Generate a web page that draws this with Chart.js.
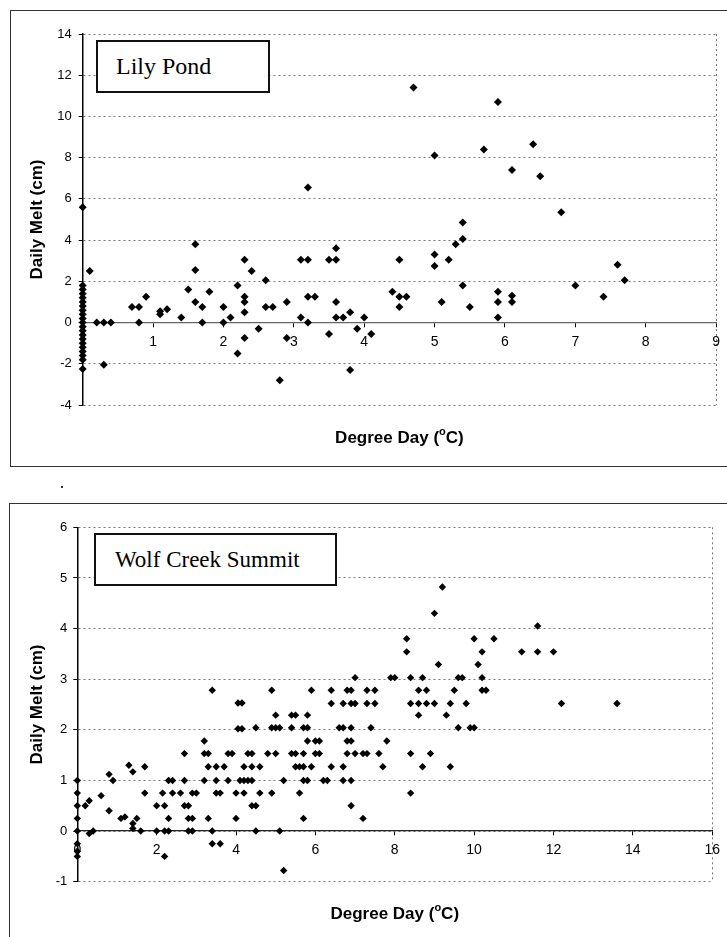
<!DOCTYPE html>
<html>
<head>
<meta charset="utf-8">
<script src="https://cdn.jsdelivr.net/npm/chart.js@4.4.1/dist/chart.umd.min.js"></script>
<style>
  body { margin: 0; background: #fff; width: 727px; height: 937px; overflow: hidden; position: relative; }
  .frame { position: absolute; border: 1.5px solid #333; }
  #frame1 { left: 10px; top: 10px; width: 760px; height: 455px; }
  #frame2 { left: 9px; top: 503px; width: 760px; height: 480px; }
  canvas { position: absolute; left: 0; }
  #lilyChart { top: 0; }
  #wolfChart { top: 470px; }
  .label { position: absolute; box-sizing: border-box; border: 2px solid #111; background: #fff; color: #000;
           font-family: "Liberation Serif", "Times New Roman", serif; display: flex; align-items: center; }
  #lilyLabel { left: 96px; top: 40px; width: 174px; height: 53px; font-size: 24px; padding-left: 18px; }
  #wolfLabel { left: 94px; top: 533px; width: 243px; height: 53px; font-size: 23px; padding-left: 19px; }
  .speck { position: absolute; left: 61px; top: 486px; width: 2px; height: 2px; background: #333; }
</style>
</head>
<body>
<div class="frame" id="frame1"></div>
<div class="frame" id="frame2"></div>
<div class="speck"></div>
<canvas id="lilyChart" width="727" height="470"></canvas>
<canvas id="wolfChart" width="727" height="467"></canvas>
<div class="label" id="lilyLabel">Lily Pond</div>
<div class="label" id="wolfLabel">Wolf Creek Summit</div>
<script>
// Lily Pond: degree day (°C) vs daily melt (cm)
const lilyDegreeDay = [
  0, 0, 0, 0, 0, 0, 0, 0, 0, 0, 0, 0, 0, 0, 0, 0, 0, 0, 0, 0, 0,
  0.1, 0.2, 0.3, 0.4, 0.3, 0.7, 0.8, 0.8, 0.9, 1.1, 1.1, 1.2, 1.4, 1.5,
  1.6, 1.6, 1.6, 1.7, 1.7, 1.8, 2.0, 2.0, 2.1, 2.2, 2.2, 2.3, 2.3, 2.3, 2.3, 2.3,
  2.4, 2.5, 2.6, 2.6, 2.7, 2.8, 2.9, 2.9, 3.1, 3.2, 3.1, 3.2, 3.3, 3.2, 3.2,
  3.5, 3.5, 3.6, 3.6, 3.6, 3.6, 3.7, 3.8, 3.8, 3.9, 4.0, 4.1,
  4.4, 4.5, 4.5, 4.6, 4.5, 4.7, 5.0, 5.0, 5.0, 5.1, 5.2, 5.3, 5.4, 5.4, 5.4, 5.5,
  5.7, 5.9, 5.9, 5.9, 5.9, 6.1, 6.1, 6.1, 6.4, 6.5, 6.8, 7.0, 7.4, 7.6, 7.7
];
const lilyMelt = [
  5.6, 1.8, 1.6, 1.4, 1.2, 1.0, 0.8, 0.6, 0.4, 0.2, 0, -0.2, -0.4, -0.6, -0.8, -1.0, -1.2, -1.4, -1.6, -1.8, -2.25,
  2.5, 0, 0, 0, -2.05, 0.75, 0.75, 0, 1.25, 0.55, 0.4, 0.65, 0.25, 1.6,
  3.8, 2.55, 1.0, 0.75, 0, 1.5, 0.75, 0, 0.25, -1.5, 1.8, 3.05, 1.25, 1.0, 0.5, -0.75,
  2.5, -0.3, 2.05, 0.75, 0.75, -2.8, 1.0, -0.75, 3.05, 3.05, 0.25, 1.25, 1.25, 0, 6.55,
  -0.55, 3.05, 3.05, 3.6, 1.0, 0.25, 0.25, 0.5, -2.3, -0.3, 0.25, -0.55,
  1.5, 3.05, 1.25, 1.25, 0.75, 11.4, 8.1, 3.3, 2.75, 1.0, 3.05, 3.8, 4.85, 4.05, 1.8, 0.75,
  8.4, 10.7, 1.5, 1.0, 0.25, 7.4, 1.3, 1.0, 8.65, 7.1, 5.35, 1.8, 1.25, 2.8, 2.05
];

// Wolf Creek Summit
const wolfDegreeDay = [
  0, 0, 0, 0, 0, 0, 0, 0,
  0.2, 0.3, 0.3, 0.4, 0.6, 0.8, 0.8, 0.9, 1.1, 1.2, 1.3, 1.4, 1.4, 1.4, 1.5, 1.6, 1.7, 1.7,
  2.0, 2.0, 2.15, 2.2, 2.2, 2.2, 2.3, 2.3, 2.3, 2.4, 2.4, 2.6, 2.7, 2.7, 2.7, 2.8, 2.8, 2.8, 2.9, 2.9, 2.9, 3.0,
  3.2, 3.2, 3.2, 3.3, 3.3, 3.3, 3.4, 3.4, 3.4, 3.5, 3.5, 3.5, 3.6, 3.6, 3.7, 3.8, 3.8, 3.9,
  4.0, 4.0, 4.05, 4.15, 4.05, 4.15, 4.1, 4.2, 4.2, 4.2, 4.3, 4.4,
  4.9, 5.9, 6.4, 6.8, 6.9, 7.3, 7.5, 8.6, 8.8, 9.5, 10.2, 10.3,
  7.0, 7.9, 8.0, 8.4, 8.7, 9.6, 9.7, 10.2,
  6.4, 6.7, 6.9, 7.0, 7.3, 7.5, 8.4, 8.6, 8.8, 9.0, 9.4, 9.8, 12.2, 13.6,
  5.0, 5.4, 5.5, 5.8, 8.6, 9.3,
  4.5, 4.9, 5.0, 5.1, 5.4, 5.7, 5.8, 6.6, 6.7, 6.9, 7.4, 9.6, 9.9, 10.0,
  5.8, 6.0, 6.1, 6.8, 6.9, 7.8,
  4.3, 4.4, 4.8, 5.0, 5.4, 5.5, 5.7, 6.0, 6.1, 6.8, 7.0, 7.2, 7.3, 7.6, 8.4, 8.9,
  4.4, 4.6, 5.5, 5.6, 5.7, 5.9, 6.4, 6.7, 7.7, 8.7, 9.4,
  5.2, 5.7, 5.8, 6.2, 6.3, 6.7, 6.9,
  4.6, 4.9, 5.6, 8.4,
  4.4, 4.5, 6.9,
  5.7, 7.2,
  4.5, 5.1,
  5.2,
  9.1, 10.1,
  8.3, 10.2, 11.2, 11.6, 12.0,
  8.3, 10.0, 10.5,
  9.0, 9.2, 11.6
];
const wolfMelt = [
  1.0, 0.75, 0.5, 0.25, 0, -0.25, -0.4, -0.5,
  0.5, 0.6, -0.05, 0, 0.7, 1.12, 0.4, 1.0, 0.25, 0.28, 1.3, 1.17, 0.15, 0.05, 0.25, 0, 1.27, 0.75,
  0, 0.5, 0.75, 0.5, 0, -0.5, 1.0, 0.25, 0, 1.0, 0.75, 0.75, 1.53, 1.0, 0.5, 0.5, 0.25, 0, 0.25, 0, 0.75, 0.75,
  1.78, 1.53, 1.0, 1.53, 1.27, 0.25, 2.78, 0, -0.25, 1.27, 1.0, 0.75, 0.75, -0.25, 1.27, 1.0, 1.53, 1.53,
  0.75, 0.25, 2.02, 2.02, 2.53, 2.53, 1.0, 1.27, 1.0, 0.75, 1.0, 1.0,
  2.78, 2.78, 2.78, 2.78, 2.78, 2.78, 2.78, 2.78, 2.78, 2.78, 2.78, 2.78,
  3.03, 3.03, 3.03, 3.03, 3.03, 3.03, 3.03, 3.03,
  2.52, 2.52, 2.52, 2.52, 2.52, 2.52, 2.52, 2.52, 2.52, 2.52, 2.52, 2.52, 2.52, 2.52,
  2.29, 2.29, 2.29, 2.29, 2.29, 2.29,
  2.04, 2.04, 2.04, 2.04, 2.04, 2.04, 2.04, 2.04, 2.04, 2.04, 2.04, 2.04, 2.04, 2.04,
  1.78, 1.78, 1.78, 1.78, 1.78, 1.78,
  1.53, 1.53, 1.53, 1.53, 1.53, 1.53, 1.53, 1.53, 1.53, 1.53, 1.53, 1.53, 1.53, 1.53, 1.53, 1.53,
  1.27, 1.27, 1.27, 1.27, 1.27, 1.27, 1.27, 1.27, 1.27, 1.27, 1.27,
  1.0, 1.0, 1.0, 1.0, 1.0, 1.0, 1.0,
  0.75, 0.75, 0.75, 0.75,
  0.5, 0.5, 0.5,
  0.25, 0.25,
  0, 0,
  -0.78,
  3.29, 3.29,
  3.54, 3.54, 3.54, 3.54, 3.54,
  3.8, 3.8, 3.8,
  4.3, 4.82, 4.05
];

const lilyXTicks = [0, 1, 2, 3, 4, 5, 6, 7, 8, 9];
const lilyYTicks = [-4, -2, 0, 2, 4, 6, 8, 10, 12, 14];
const wolfXTicks = [0, 2, 4, 6, 8, 10, 12, 14, 16];
const wolfYTicks = [-1, 0, 1, 2, 3, 4, 5, 6];

const sans = '"Liberation Sans", Arial, sans-serif';

// axis titles, drawn by hand so the degree "o" can be a superscript
const axisTitles = {
  id: 'axisTitles',
  afterDraw(chart, args, opts) {
    const ctx = chart.ctx;
    const area = chart.chartArea;
    const big = 'bold 17px ' + sans;
    const small = 'bold 11px ' + sans;
    ctx.save();
    ctx.fillStyle = '#000';
    ctx.textBaseline = 'middle';
    ctx.textAlign = 'left';
    ctx.font = big;
    const wPre = ctx.measureText('Degree Day (').width;
    const wPost = ctx.measureText('C)').width;
    ctx.font = small;
    const wSup = ctx.measureText('o').width;
    let x = (area.left + area.right) / 2 - (wPre + wSup + wPost) / 2;
    const y = opts.xTitleY;
    ctx.font = big;
    ctx.fillText('Degree Day (', x, y);
    x += wPre;
    ctx.font = small;
    ctx.fillText('o', x, y - 6);
    x += wSup;
    ctx.font = big;
    ctx.fillText('C)', x, y);

    ctx.translate(opts.yTitleX, (area.top + area.bottom) / 2);
    ctx.rotate(-Math.PI / 2);
    ctx.textAlign = 'center';
    ctx.fillText('Daily Melt (cm)', 0, 0);
    ctx.restore();
  }
};

function makeChart(id, xs, ys, xTicks, yTicks, opt) {
  const points = xs.map((x, i) => ({x: x, y: ys[i]}));
  const xMax = xTicks[xTicks.length - 1];
  return new Chart(document.getElementById(id), {
    type: 'scatter',
    data: {
      datasets: [{
        data: points,
        clip: false,
        pointStyle: 'rectRot',
        pointRadius: opt.radius,
        backgroundColor: '#000',
        borderColor: '#000',
        borderWidth: 0
      }]
    },
    options: {
      responsive: false,
      animation: false,
      layout: { padding: { left: 0, top: opt.top, right: opt.right, bottom: opt.bottom } },
      plugins: {
        legend: { display: false },
        tooltip: { enabled: false },
        axisTitles: { xTitleY: opt.xTitleY, yTitleX: opt.yTitleX }
      },
      scales: {
        x: {
          type: 'linear',
          position: { y: 0 },
          min: xTicks[0],
          max: xMax,
          ticks: {
            stepSize: xTicks[1] - xTicks[0],
            color: '#000',
            font: { family: sans, size: 14 },
            padding: 7,
            maxRotation: 0,
            autoSkip: false,
            callback: v => (opt.hideZero && v === 0) ? '' : v
          },
          grid: {
            color: c => (c.tick && c.tick.value === xMax) ? '#777' : 'rgba(0,0,0,0)',
            tickLength: 4,
            tickColor: '#000',
            tickBorderDash: []
          },
          border: { color: opt.axisColor, width: 1.3, dash: [2, 3] },
          afterFit: s => { s.height = 0; }
        },
        y: {
          min: yTicks[0],
          max: yTicks[yTicks.length - 1],
          ticks: {
            stepSize: yTicks[1] - yTicks[0],
            color: '#000',
            font: { family: sans, size: 13 },
            padding: opt.yPad
          },
          grid: {
            color: '#777',
            tickLength: 4,
            tickColor: '#000',
            tickBorderDash: []
          },
          border: { color: '#000', width: 1.5, dash: [2, 3] },
          afterFit: s => { s.width = opt.left; }
        }
      }
    },
    plugins: [axisTitles]
  });
}

makeChart('lilyChart', lilyDegreeDay, lilyMelt, lilyXTicks, lilyYTicks, {
  left: 82.7, top: 34, right: 6.3, bottom: 65,
  radius: 4, yPad: 7, xTitleY: 438, yTitleX: 37,
  axisColor: '#666', hideZero: true
});
makeChart('wolfChart', wolfDegreeDay, wolfMelt, wolfXTicks, wolfYTicks, {
  left: 77.3, top: 57.3, right: 12, bottom: 55.3,
  radius: 3.7, yPad: 6, xTitleY: 444, yTitleX: 37,
  axisColor: '#222', hideZero: false
});
</script>
</body>
</html>
